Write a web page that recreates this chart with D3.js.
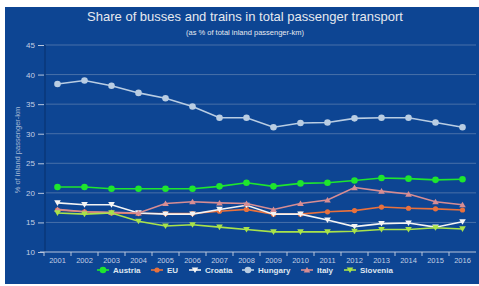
<!DOCTYPE html>
<meta charset="utf-8">
<script src="https://d3js.org/d3.v7.min.js"></script>
<style>
  body { margin: 0; background: #fff; }
  text { font-family: "Liberation Sans", Arial, sans-serif; }
</style>
<div id="chart"></div>
<script>
const years = ["2001","2002","2003","2004","2005","2006","2007","2008","2009","2010","2011","2012","2013","2014","2015","2016"];
const yTicks = [10, 15, 20, 25, 30, 35, 40, 45];

const austria  = [21.0, 21.0, 20.7, 20.7, 20.7, 20.7, 21.1, 21.7, 21.1, 21.6, 21.7, 22.1, 22.5, 22.4, 22.2, 22.3];
const eu       = [17.1, 16.8, 16.6, 16.5, 16.5, 16.5, 16.9, 17.2, 16.4, 16.4, 16.8, 17.0, 17.6, 17.4, 17.3, 17.1];
const croatia  = [18.3, 18.0, 18.0, 16.6, 16.4, 16.4, 17.2, 17.9, 16.4, 16.4, 15.4, 14.3, 14.8, 14.9, 14.2, 15.1];
const hungary  = [38.4, 39.0, 38.1, 36.9, 36.0, 34.6, 32.7, 32.7, 31.1, 31.8, 31.9, 32.6, 32.7, 32.7, 31.9, 31.1];
const italy    = [17.2, 16.8, 16.7, 16.6, 18.2, 18.5, 18.3, 18.2, 17.2, 18.2, 18.8, 20.9, 20.3, 19.8, 18.5, 18.0];
const slovenia = [16.6, 16.4, 16.6, 15.2, 14.4, 14.6, 14.2, 13.8, 13.4, 13.4, 13.4, 13.5, 13.8, 13.8, 14.1, 13.9];

const series = [
  {name: "Austria",  values: austria,  color: "#1ee62e", shape: "circle",  lx: 103},
  {name: "EU",       values: eu,       color: "#e8713d", shape: "small",   lx: 157},
  {name: "Croatia",  values: croatia,  color: "#f4f4f4", shape: "down",    lx: 195},
  {name: "Hungary",  values: hungary,  color: "#b9cde3", shape: "circle",  lx: 248},
  {name: "Italy",    values: italy,    color: "#d78d93", shape: "up",      lx: 307},
  {name: "Slovenia", values: slovenia, color: "#a9e34a", shape: "down",    lx: 350}
];

const W = 479, H = 286;
const svg = d3.select("#chart").append("svg").attr("width", W).attr("height", H);

svg.append("rect").attr("x", 5).attr("y", 7).attr("width", W - 5).attr("height", H - 9)
  .attr("fill", "#0d4593");

const x = d3.scaleBand().domain(years).range([44, 476]);
const y = d3.scaleLinear().domain([10, 45]).range([252, 45]);

// grid
svg.append("g").selectAll("line").data(yTicks.slice(1)).join("line")
  .attr("x1", 45).attr("x2", 476)
  .attr("y1", d => y(d)).attr("y2", d => y(d))
  .attr("stroke", "#8ea3c4").attr("stroke-opacity", 0.45).attr("stroke-width", 1);

// left panel border
svg.append("line").attr("x1", 45).attr("x2", 45).attr("y1", 45).attr("y2", 252)
  .attr("stroke", "#0a3778").attr("stroke-width", 1.5);

// y axis
const yAxis = svg.append("g").attr("transform", "translate(44,0)")
  .call(d3.axisLeft(y).tickValues(yTicks).tickSize(6).tickPadding(3));
yAxis.select(".domain").remove();
yAxis.selectAll("line").attr("stroke", "#b9c6dc");
yAxis.selectAll("text").attr("fill", "#c3cfe3").style("font-size", "8px");

// x axis
const xAxis = svg.append("g").attr("transform", "translate(0,252)")
  .call(d3.axisBottom(x).tickSize(0).tickPadding(6));
xAxis.select(".domain").attr("stroke", "#b9c6dc").attr("d", "M40,0H476");
xAxis.selectAll("text").attr("fill", "#c3cfe3").style("font-size", "7.5px");
svg.append("g").selectAll("line").data(years).join("line")
  .attr("x1", d => x(d)).attr("x2", d => x(d))
  .attr("y1", 252).attr("y2", 256)
  .attr("stroke", "#b9c6dc");

// titles
svg.append("text").attr("x", 245).attr("y", 21).attr("text-anchor", "middle")
  .attr("fill", "#e6e9ef").style("font-size", "13px")
  .text("Share of busses and trains in total passenger transport");
svg.append("text").attr("x", 245).attr("y", 35).attr("text-anchor", "middle")
  .attr("fill", "#e6e9ef").style("font-size", "7.5px")
  .text("(as % of total inland passenger-km)");
svg.append("text").attr("transform", "translate(20,150) rotate(-90)")
  .attr("text-anchor", "middle").attr("fill", "#a9bbd6").style("font-size", "7.5px")
  .text("% of inland passenger-km");

function marker(g, shape, color, cx, cy) {
  if (shape === "circle") {
    g.append("circle").attr("cx", cx).attr("cy", cy).attr("r", 3.3).attr("fill", color);
  } else if (shape === "small") {
    g.append("circle").attr("cx", cx).attr("cy", cy).attr("r", 2.6).attr("fill", color);
  } else {
    const s = shape === "up" ? -1 : 1;
    g.append("path")
      .attr("d", `M${cx - 3.3},${cy - 2.6 * s}L${cx + 3.3},${cy - 2.6 * s}L${cx},${cy + 3 * s}Z`)
      .attr("fill", color);
  }
}

const line = d3.line().x((d, i) => x(years[i]) + x.bandwidth() / 2).y(d => y(d));

series.forEach(s => {
  const g = svg.append("g");
  g.append("path").datum(s.values).attr("d", line)
    .attr("fill", "none").attr("stroke", s.color).attr("stroke-width", 1.6);
  s.values.forEach((v, i) => marker(g, s.shape, s.color, x(years[i]) + x.bandwidth() / 2, y(v)));

  // legend
  const lg = svg.append("g");
  lg.append("line").attr("x1", s.lx - 6).attr("x2", s.lx + 6).attr("y1", 270).attr("y2", 270)
    .attr("stroke", s.color).attr("stroke-width", 1.6);
  marker(lg, s.shape, s.color, s.lx, 270);
  lg.append("text").attr("x", s.lx + 10).attr("y", 273).attr("fill", "#dfe5ef")
    .style("font-size", "8px").style("font-weight", "bold").text(s.name);
});
</script>
